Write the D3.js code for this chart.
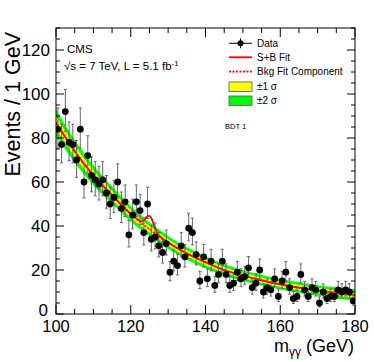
<!DOCTYPE html>
<html>
<head>
<meta charset="utf-8">
<script src="https://cdn.jsdelivr.net/npm/d3@7"></script>
<style>
  html, body { margin: 0; padding: 0; background: #fff; }
  svg { display: block; font-family: "Liberation Sans", Arial, Helvetica, sans-serif; }
</style>
</head>
<body>
<svg id="chart" width="374" height="362"></svg>
<script>
// ---------------- data ----------------
const massBins = d3.range(100.5, 180, 1); // bin centres, 1 GeV bins
const eventCounts = [
  84, 77, 92, 78, 77, 70, 84, 60, 72, 63,
  61, 59, 61, 55, 50, 53, 60, 48, 51, 36,
  45, 51, 47, 37, 50, 34, 35, 31, 28, 32,
  19, 24, 22, 31, 26, 39, 37, 27, 15, 26,
  16, 24, 13, 18, 24, 18, 13, 14, 19, 16,
  17, 21, 12, 14, 20, 10, 12, 11, 16, 8,
  15, 19, 12, 7, 8, 18, 11, 8, 12, 11,
  5, 10, 7, 8, 8, 11, 10, 11, 10, 6
];

const bkgMass = [100, 105, 110, 115, 120, 125, 130, 135, 140, 145, 150, 155, 160, 165, 170, 175, 180];
const bkgFit  = [87, 74, 63, 54, 45.5, 38.5, 32.5, 27.5, 23.5, 20, 17.5, 15.3, 13.5, 12, 10.7, 9.6, 8.6];
const band1Sigma = [3.0, 2.6, 2.3, 2.0, 1.8, 1.6, 1.5, 1.4, 1.35, 1.3, 1.25, 1.2, 1.2, 1.2, 1.2, 1.25, 1.3];
const band2Sigma = [6.0, 5.2, 4.6, 4.0, 3.6, 3.2, 3.0, 2.8, 2.7, 2.6, 2.5, 2.4, 2.4, 2.4, 2.4, 2.5, 2.6];

const sbMass = [100, 105, 110, 115, 120, 121, 122, 122.5, 123, 123.5, 124, 124.5, 125, 125.5, 126, 126.5, 127, 128, 130, 135, 140, 145, 150, 155, 160, 165, 170, 175, 180];
const sbFit  = [87, 74, 63, 54, 45.5, 44.1, 42.8, 42.3, 42.1, 42.6, 43.7, 44.5, 44.6, 43.6, 41.4, 39.0, 37.0, 35.0, 32.5, 27.5, 23.5, 20, 17.5, 15.3, 13.5, 12, 10.7, 9.6, 8.6];

const xTicks = [100, 120, 140, 160, 180];
const yTicks = [0, 20, 40, 60, 80, 100, 120];

const legendLabels = ["Data", "S+B Fit", "Bkg Fit Component", "\u00b11 \u03c3", "\u00b12 \u03c3"];

// ---------------- layout ----------------
const svg = d3.select("#chart");
const L = 56, R = 355, T = 28, B = 314;

const x = d3.scaleLinear().domain([100, 180]).range([L, R]);
const y = d3.scaleLinear().domain([0, 130]).range([B, T]);

const COL_GREEN = "#00ff00", COL_YELLOW = "#ffff00", COL_RED = "#ff0000";

svg.append("clipPath").attr("id", "plotclip")
  .append("rect").attr("x", L).attr("y", T).attr("width", R - L).attr("height", B - T);

const plot = svg.append("g").attr("clip-path", "url(#plotclip)");

// bands
const bandData = bkgMass.map((m, i) => ({ m, c: bkgFit[i], s1: band1Sigma[i], s2: band2Sigma[i] }));
const area2 = d3.area().curve(d3.curveMonotoneX)
  .x(d => x(d.m)).y0(d => y(d.c - d.s2)).y1(d => y(d.c + d.s2));
const area1 = d3.area().curve(d3.curveMonotoneX)
  .x(d => x(d.m)).y0(d => y(d.c - d.s1)).y1(d => y(d.c + d.s1));
plot.append("path").datum(bandData).attr("d", area2).attr("fill", COL_GREEN);
plot.append("path").datum(bandData).attr("d", area1).attr("fill", COL_YELLOW);

// S+B fit (solid)
const sbData = sbMass.map((m, i) => ({ m, v: sbFit[i] }));
plot.append("path").datum(sbData)
  .attr("d", d3.line().curve(d3.curveMonotoneX).x(d => x(d.m)).y(d => y(d.v)))
  .attr("fill", "none").attr("stroke", COL_RED).attr("stroke-width", 1.8);

// Bkg fit component (dotted)
plot.append("path").datum(bandData)
  .attr("d", d3.line().curve(d3.curveMonotoneX).x(d => x(d.m)).y(d => y(d.c)))
  .attr("fill", "none").attr("stroke", COL_RED).attr("stroke-width", 1.8)
  .attr("stroke-dasharray", "2,1.5");

// data error bars (Poisson)
const pts = massBins.map((m, i) => {
  const n = eventCounts[i];
  const s = Math.sqrt(n + 0.25);
  return { m, n, lo: n - (s - 0.5), hi: n + (s + 0.5) };
});
const eb = plot.append("g").attr("stroke", "#666").attr("stroke-width", 1);
eb.selectAll("line.v").data(pts).enter().append("line")
  .attr("x1", d => x(d.m)).attr("x2", d => x(d.m))
  .attr("y1", d => y(d.lo)).attr("y2", d => y(d.hi));
eb.selectAll("line.t").data(pts).enter().append("line")
  .attr("x1", d => x(d.m) - 1.5).attr("x2", d => x(d.m) + 1.5)
  .attr("y1", d => y(d.hi)).attr("y2", d => y(d.hi));
eb.selectAll("line.b").data(pts).enter().append("line")
  .attr("x1", d => x(d.m) - 1.5).attr("x2", d => x(d.m) + 1.5)
  .attr("y1", d => y(d.lo)).attr("y2", d => y(d.lo));

plot.append("g").selectAll("circle").data(pts).enter().append("circle")
  .attr("cx", d => x(d.m)).attr("cy", d => y(d.n)).attr("r", 3.4).attr("fill", "#000");

// ---------------- axes ----------------
const axG = svg.append("g");
axG.append("rect").attr("x", L).attr("y", T).attr("width", R - L).attr("height", B - T)
  .attr("fill", "none").attr("stroke", "#000").attr("stroke-width", 1);

const xMinor = d3.range(100, 180.01, 5);
const yMinor = d3.range(0, 130.01, 5);
const tk = axG.append("g").attr("stroke", "#000").attr("stroke-width", 1);
xMinor.forEach(v => {
  const major = xTicks.includes(v);
  const len = major ? 9 : 5;
  tk.append("line").attr("x1", x(v)).attr("x2", x(v)).attr("y1", B).attr("y2", B - len);
  tk.append("line").attr("x1", x(v)).attr("x2", x(v)).attr("y1", T).attr("y2", T + len);
});
yMinor.forEach(v => {
  const major = yTicks.includes(v);
  const len = major ? 8 : 4;
  tk.append("line").attr("x1", L).attr("x2", L + len).attr("y1", y(v)).attr("y2", y(v));
  tk.append("line").attr("x1", R).attr("x2", R - len).attr("y1", y(v)).attr("y2", y(v));
});

axG.append("g").selectAll("text").data(xTicks).enter().append("text")
  .attr("x", d => x(d)).attr("y", 332).attr("text-anchor", "middle")
  .attr("font-size", 16.5).text(d => d);
axG.append("g").selectAll("text").data(yTicks).enter().append("text")
  .attr("x", d => d === 0 ? 48 : 50).attr("y", d => y(d) + (d === 0 ? 2 : 6)).attr("text-anchor", "end")
  .attr("font-family", "'Liberation Sans Narrow', 'Liberation Sans', Arial, sans-serif")
  .attr("font-size", 17).text(d => d);

// axis titles
svg.append("text").attr("transform", "translate(20,32) rotate(-90)")
  .attr("text-anchor", "end").attr("font-size", 21.5).text("Events / 1 GeV");

const xt = svg.append("text").attr("x", 354).attr("y", 352).attr("text-anchor", "end").attr("font-size", 18);
xt.append("tspan").text("m");
xt.append("tspan").attr("font-size", 12).attr("dy", 4).text("\u03b3\u03b3");
xt.append("tspan").attr("dy", -4).text(" (GeV)");

// CMS labels
svg.append("text").attr("x", 67).attr("y", 52.5).attr("font-size", 11.5).text("CMS");
const lum = svg.append("text").attr("x", 64).attr("y", 70).attr("font-size", 11.5);
lum.append("tspan").text("\u221as = 7 TeV, L = 5.1 fb");
lum.append("tspan").attr("font-size", 8).attr("dy", -4).text("-1");

// ---------------- legend ----------------
const lg = svg.append("g");
const rowY = [43.3, 57.3, 71.7, 86.7, 100.7];
const lx0 = 229, lx1 = 252, tx = 257;
// Data
lg.append("line").attr("x1", lx0).attr("x2", lx1).attr("y1", rowY[0]).attr("y2", rowY[0]).attr("stroke", "#000");
lg.append("line").attr("x1", (lx0 + lx1) / 2).attr("x2", (lx0 + lx1) / 2).attr("y1", rowY[0] - 5).attr("y2", rowY[0] + 5).attr("stroke", "#000");
lg.append("circle").attr("cx", (lx0 + lx1) / 2).attr("cy", rowY[0]).attr("r", 3).attr("fill", "#000");
// S+B
lg.append("line").attr("x1", lx0).attr("x2", lx1).attr("y1", rowY[1]).attr("y2", rowY[1]).attr("stroke", COL_RED).attr("stroke-width", 1.8);
// Bkg
lg.append("line").attr("x1", lx0).attr("x2", lx1).attr("y1", rowY[2]).attr("y2", rowY[2]).attr("stroke", COL_RED).attr("stroke-width", 1.8).attr("stroke-dasharray", "2,1.5");
// boxes
lg.append("rect").attr("x", lx0).attr("y", rowY[3] - 4.7).attr("width", lx1 - lx0).attr("height", 9.4)
  .attr("fill", COL_YELLOW).attr("stroke", "#555").attr("stroke-width", 0.8);
lg.append("rect").attr("x", lx0).attr("y", rowY[4] - 4.7).attr("width", lx1 - lx0).attr("height", 9.4)
  .attr("fill", COL_GREEN).attr("stroke", "#555").attr("stroke-width", 0.8);
lg.selectAll("text.l").data(legendLabels).enter().append("text")
  .attr("x", tx).attr("y", (d, i) => rowY[i] + 3.6).attr("font-size", 10).text(d => d);

svg.append("text").attr("x", 225).attr("y", 128.5).attr("font-size", 7.5).text("BDT 1");
</script>
</body>
</html>
